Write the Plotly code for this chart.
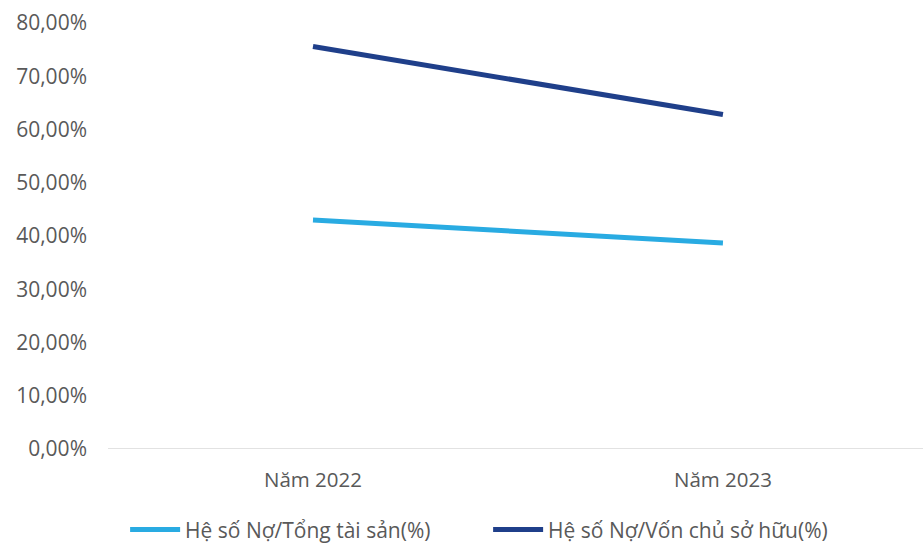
import plotly.graph_objects as go

categories = ["Năm 2022", "Năm 2023"]
no_tong_ts = [43.0, 38.7]
no_von_csh = [75.6, 62.8]
series_names = ["Hệ số Nợ/Tổng tài sản(%)", "Hệ số Nợ/Vốn chủ sở hữu(%)"]
tick_vals = [0, 10, 20, 30, 40, 50, 60, 70, 80]
tick_text = ["0,00%", "10,00%", "20,00%", "30,00%", "40,00%", "50,00%", "60,00%", "70,00%", "80,00%"]

fig = go.Figure()
fig.add_trace(go.Scatter(x=categories, y=no_tong_ts, mode="lines", name=series_names[0],
                         line=dict(color="#29ABE2", width=5)))
fig.add_trace(go.Scatter(x=categories, y=no_von_csh, mode="lines", name=series_names[1],
                         line=dict(color="#1F3F8A", width=5)))

font_family = "Open Sans, Noto Sans, sans-serif"
fig.update_layout(
    width=923, height=545,
    margin=dict(l=108, r=0, t=23, b=96, autoexpand=False),
    paper_bgcolor="white", plot_bgcolor="white",
    font=dict(family=font_family, size=21, color="#595959"),
    showlegend=True,
    legend=dict(orientation="h", x=0.021, xanchor="left", y=-0.19, yanchor="middle",
                font=dict(size=21, color="#595959"), itemwidth=50, traceorder="normal",
                entrywidth=298, entrywidthmode="pixels",
                bgcolor="rgba(0,0,0,0)"),
    xaxis=dict(type="category", range=[-0.5, 1.488], showgrid=False, zeroline=False,
               showline=False, ticks="", automargin=False, ticklabelstandoff=16,
               tickfont=dict(size=20.5, color="#595959")),
    yaxis=dict(range=[0, 80], tickvals=tick_vals, ticktext=tick_text, showgrid=False,
               zeroline=False, showline=False, ticks="", ticklabelstandoff=20, automargin=False,
               tickfont=dict(size=21, color="#595959")),
    shapes=[dict(type="line", xref="paper", yref="y", x0=0, x1=1, y0=0, y1=0,
                 line=dict(color="#D9D9D9", width=1.5))],
)

fig.write_html("out.html", config={"displayModeBar": False},
               post_script="document.body.style.margin='0';document.body.style.overflow='hidden';")
